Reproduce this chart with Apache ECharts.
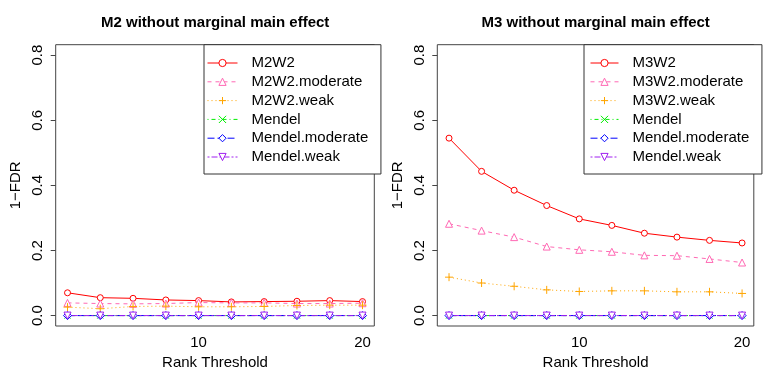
<!DOCTYPE html>
<html>
<head>
<meta charset="utf-8">
<script src="https://cdn.jsdelivr.net/npm/echarts@6/dist/echarts.min.js"></script>
<style>
  html, body { margin: 0; background: #fff; }
  #chart { width: 763px; height: 382px; }
</style>
</head>
<body>
<div id="chart"></div>
<script>
// x values (rank threshold)
const rankThreshold = [2, 4, 6, 8, 10, 12, 14, 16, 18, 20]
const xTickLabels = [10, 20]
const yTickLabels = [0, 0.2, 0.4, 0.6, 0.8]

// M2 panel
const m2w2 = [0.070, 0.055, 0.053, 0.048, 0.046, 0.042, 0.043, 0.044, 0.046, 0.043]
const m2w2Moderate = [0.039, 0.037, 0.036, 0.037, 0.040, 0.039, 0.039, 0.037, 0.037, 0.038]
const m2w2Weak = [0.026, 0.021, 0.028, 0.029, 0.027, 0.027, 0.028, 0.031, 0.032, 0.032]

// M3 panel
const m3w2 = [0.545, 0.443, 0.385, 0.338, 0.297, 0.277, 0.253, 0.241, 0.231, 0.223]
const m3w2Moderate = [0.282, 0.261, 0.241, 0.212, 0.202, 0.196, 0.185, 0.184, 0.174, 0.163]
const m3w2Weak = [0.118, 0.100, 0.090, 0.079, 0.074, 0.076, 0.076, 0.073, 0.073, 0.068]

// Mendel methods find nothing in either panel
const mendel = [0, 0, 0, 0, 0, 0, 0, 0, 0, 0]
const mendelModerate = [0, 0, 0, 0, 0, 0, 0, 0, 0, 0]
const mendelWeak = [0, 0, 0, 0, 0, 0, 0, 0, 0, 0]

const FONT = 'Liberation Sans, Arial, sans-serif'
const PLUS = 'path://M5,0L5,10M0,5L10,5'
const CROSS = 'path://M0,0L10,10M0,10L10,0'

// method -> look (R style col / lty / pch)
const STYLES = [
  { color: '#ff0000', dash: 'solid', symbol: 'circle', size: 6 },
  { color: '#ff69b4', dash: [4, 4], symbol: 'triangle', size: 7 },
  { color: '#ffa500', dash: [1, 3], symbol: PLUS, size: 8 },
  { color: '#00ee00', dash: [1, 3, 4, 3], symbol: CROSS, size: 6 },
  { color: '#0000ff', dash: [7, 3], symbol: 'diamond', size: 8 },
  { color: '#a020f0', dash: [2, 2, 6, 2], symbol: 'triangle', size: 7, rotate: 180 }
]

function makeSeries(name, values, st, axisIdx) {
  return {
    type: 'line',
    name,
    xAxisIndex: axisIdx,
    yAxisIndex: axisIdx,
    data: rankThreshold.map((x, i) => [x, values[i]]),
    symbol: st.symbol,
    symbolSize: st.size,
    symbolRotate: st.rotate || 0,
    showAllSymbol: true,
    lineStyle: { color: st.color, width: 1, type: st.dash },
    itemStyle: { color: '#fff', borderColor: st.color, borderWidth: 1 },
    emphasis: { disabled: true }
  }
}

const leftNames = ['M2W2', 'M2W2.moderate', 'M2W2.weak', 'Mendel', 'Mendel.moderate', 'Mendel.weak']
const rightNames = ['M3W2', 'M3W2.moderate', 'M3W2.weak', 'Mendel', 'Mendel.moderate', 'Mendel.weak']
const leftData = [m2w2, m2w2Moderate, m2w2Weak, mendel, mendelModerate, mendelWeak]
const rightData = [m3w2, m3w2Moderate, m3w2Weak, mendel, mendelModerate, mendelWeak]

const series = []
leftNames.forEach((n, i) => series.push(makeSeries(n, leftData[i], STYLES[i], 0)))
rightNames.forEach((n, i) => series.push(makeSeries(n, rightData[i], STYLES[i], 1)))

function xAxis(gridIndex) {
  return {
    type: 'value', gridIndex, min: 1.28, max: 20.72,
    name: 'Rank Threshold', nameLocation: 'middle', nameGap: 29,
    nameTextStyle: { fontSize: 15, color: '#000', fontFamily: FONT },
    axisLine: { show: false },
    axisTick: { show: false },
    splitLine: { show: false },
    axisLabel: { customValues: xTickLabels, fontSize: 15, color: '#000', fontFamily: FONT, margin: 9 }
  }
}

function yAxis(gridIndex) {
  return {
    type: 'value', gridIndex, min: -0.032, max: 0.832,
    name: '1\u2212FDR', nameLocation: 'middle', nameGap: 32, nameRotate: 90,
    nameTextStyle: { fontSize: 15, color: '#000', fontFamily: FONT },
    axisLine: { show: false },
    axisTick: { show: true, customValues: yTickLabels, length: 5, lineStyle: { color: '#444' } },
    splitLine: { show: false },
    axisLabel: {
      customValues: yTickLabels, rotate: 90, fontSize: 15, color: '#000', fontFamily: FONT, margin: 10,
      formatter: v => v.toFixed(1)
    }
  }
}

function legend(names, left, padLeft, itemWidth) {
  return {
    data: names,
    orient: 'vertical',
    left, top: 44.7,
    padding: [10.8, 12.7, 9.5, padLeft],
    itemWidth, itemHeight: 9, itemGap: 3.8,
    backgroundColor: '#fff',
    borderColor: '#333', borderWidth: 1, borderRadius: 0,
    itemStyle: { borderWidth: 1 },
    lineStyle: { width: 1 },
    selectedMode: false,
    textStyle: { fontSize: 15, lineHeight: 15, color: '#000', fontFamily: FONT, padding: [0, 0, 0, 9] }
  }
}

const chart = echarts.init(document.getElementById('chart'), null, { renderer: 'canvas' })
chart.setOption({
  animation: false,
  backgroundColor: '#fff',
  textStyle: { fontFamily: FONT },
  title: [
    { text: 'M2 without marginal main effect', left: 101, top: 15, padding: 0,
      textStyle: { fontSize: 15, fontWeight: 'bold', color: '#000', fontFamily: FONT } },
    { text: 'M3 without marginal main effect', left: 481.5, top: 15, padding: 0,
      textStyle: { fontSize: 15, fontWeight: 'bold', color: '#000', fontFamily: FONT } }
  ],
  legend: [legend(leftNames, 204, 3, 30), legend(rightNames, 584, 6, 28)],
  grid: [
    { left: 55.7, top: 44.7, width: 318.6, height: 281.3, show: true, borderColor: '#444', borderWidth: 1,
      backgroundColor: 'transparent', containLabel: false, outerBoundsMode: 'none' },
    { left: 437.3, top: 44.7, width: 316.5, height: 281.3, show: true, borderColor: '#444', borderWidth: 1,
      backgroundColor: 'transparent', containLabel: false, outerBoundsMode: 'none' }
  ],
  xAxis: [xAxis(0), xAxis(1)],
  yAxis: [yAxis(0), yAxis(1)],
  series
})
</script>
</body>
</html>
